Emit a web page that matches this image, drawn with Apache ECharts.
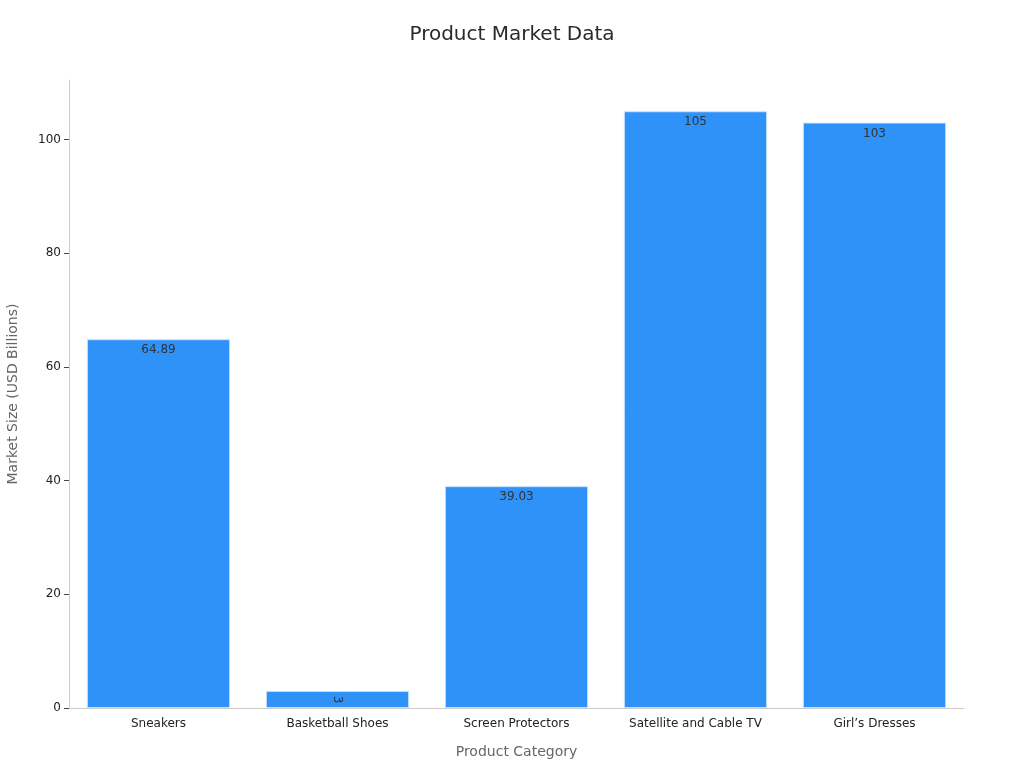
<!DOCTYPE html>
<html><head><meta charset="utf-8">
<script src="https://cdn.jsdelivr.net/npm/echarts@6/dist/echarts.min.js"></script>
<style>html,body{margin:0;padding:0;background:#fff}#c{width:1024px;height:768px}</style>
</head><body><div id="c"></div>
<script>
const categories = ["Sneakers", "Basketball Shoes", "Screen Protectors", "Satellite and Cable TV", "Girl’s Dresses"];
const values = [64.89, 3, 39.03, 105, 103];
const yTicks = [0, 20, 40, 60, 80, 100];

const chart = echarts.init(document.getElementById('c'));
const font = '"DejaVu Sans", sans-serif';
chart.setOption({
  animation: false,
  backgroundColor: '#fff',
  title: {
    text: 'Product Market Data', left: 'center', top: 20,
    textStyle: { fontFamily: font, fontSize: 20, fontWeight: 'normal', color: '#2a2a2a' }
  },
  grid: { left: 69, right: 60, top: 80, bottom: 60, containLabel: false, outerBoundsMode: 'none' },
  xAxis: {
    type: 'category', data: categories,
    name: 'Product Category', nameLocation: 'middle', nameGap: 37,
    nameTextStyle: { fontFamily: font, fontSize: 14, color: '#666' },
    axisLine: { lineStyle: { color: '#ccc' } },
    axisTick: { alignWithLabel: true, length: 5, lineStyle: { color: '#444' } },
    axisLabel: { fontFamily: font, fontSize: 12, color: '#222', margin: 10 }
  },
  yAxis: {
    type: 'value', min: 0, max: 110.5,
    name: 'Market Size (USD Billions)', nameLocation: 'middle', nameGap: 49,
    nameTextStyle: { fontFamily: font, fontSize: 14, color: '#666' },
    splitLine: { show: false },
    axisLine: { show: true, lineStyle: { color: '#ccc' } },
    axisTick: { show: true, length: 5, lineStyle: { color: '#444' }, customValues: yTicks },
    axisLabel: { fontFamily: font, fontSize: 12, color: '#222', margin: 8, customValues: yTicks }
  },
  series: [{
    type: 'bar',
    barCategoryGap: '20%',
    data: values.map((v, i) => v < 10
      ? { value: v, label: { rotate: -90, position: 'inside' } }
      : v),
    itemStyle: { color: '#2e92f8', borderColor: 'rgba(200,225,255,0.9)', borderWidth: 1 },
    label: {
      show: true, position: 'insideTop', distance: 5,
      fontFamily: font, fontSize: 12, color: '#333'
    }
  }]
});
</script></body></html>
